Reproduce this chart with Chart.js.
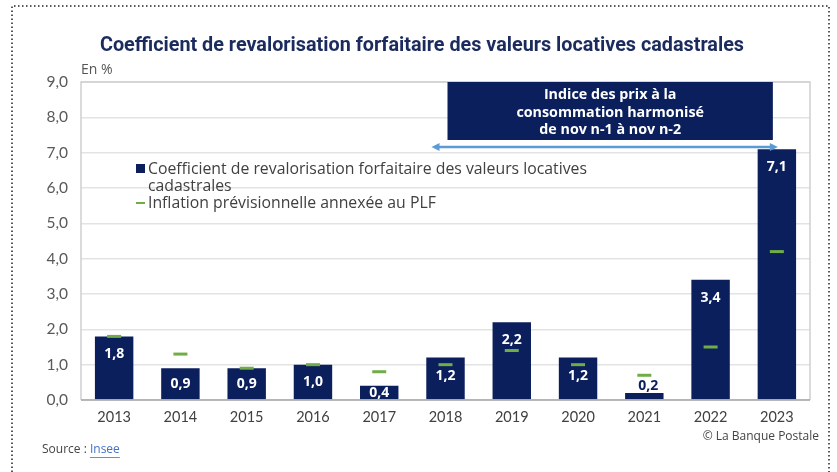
<!DOCTYPE html>
<html>
<head>
<meta charset="utf-8">
<script src="https://cdn.jsdelivr.net/npm/chart.js@4.4.0/dist/chart.umd.min.js"></script>
<style>
  html, body { margin: 0; padding: 0; background: #fff; }
  #wrap { width: 837px; height: 472px; position: relative; }
</style>
</head>
<body>
<div id="wrap"><canvas id="coefChart"></canvas></div>
<script>
// Données
const annees = ["2013", "2014", "2015", "2016", "2017", "2018", "2019", "2020", "2021", "2022", "2023"];
const coefficient = [1.8, 0.9, 0.9, 1.0, 0.4, 1.2, 2.2, 1.2, 0.2, 3.4, 7.1];
const inflationPLF = [1.8, 1.3, 0.9, 1.0, 0.8, 1.0, 1.4, 1.0, 0.7, 1.5, 4.2];
const ticksY = [0, 1, 2, 3, 4, 5, 6, 7, 8, 9];

const titre = "Coefficient de revalorisation forfaitaire des valeurs locatives cadastrales";
const labelCoef = "Coefficient de revalorisation forfaitaire des valeurs locatives cadastrales";
const labelInfl = "Inflation prévisionnelle annexée au PLF";
const boiteIPCH = ["Indice des prix à la", "consommation harmonisé", "de nov n-1 à nov n-2"];

const NAVY = "#0b1f5c";
const GREEN = "#70ad47";
const fmt = v => v.toFixed(1).replace(".", ",");

// Décor : cadre pointillé, titre, légende, encadré, sources
const decor = {
    id: "decor",
    beforeDraw(chart) {
        const ctx = chart.ctx;
        ctx.save();
        // cadre pointillé
        ctx.strokeStyle = "#222";
        ctx.lineWidth = 1.5;
        ctx.setLineDash([1.5, 2.5]);
        ctx.beginPath();
        ctx.moveTo(12, 472);
        ctx.lineTo(12, 6);
        ctx.lineTo(829, 6);
        ctx.lineTo(829, 472);
        ctx.stroke();
        ctx.setLineDash([]);

        // titre
        ctx.fillStyle = "#1b2b5e";
        ctx.font = "bold 19.8px Roboto";
        ctx.textAlign = "center";
        ctx.textBaseline = "middle";
        ctx.fillText(titre, 422, 46);

        // unité
        ctx.fillStyle = "#555";
        ctx.font = "14px 'Open Sans'";
        ctx.textAlign = "left";
        ctx.fillText("En %", 81, 70);

        // sources
        ctx.font = "12px 'Open Sans'";
        ctx.fillStyle = "#444";
        ctx.textAlign = "right";
        ctx.fillText("© La Banque Postale", 819, 437);
        ctx.textAlign = "left";
        ctx.fillText("Source : ", 42, 450);
        const w = ctx.measureText("Source : ").width;
        ctx.fillStyle = "#4472c4";
        ctx.fillText("Insee", 42 + w, 450);
        const wi = ctx.measureText("Insee").width;
        ctx.fillRect(42 + w, 457, wi, 0.8);
        ctx.restore();
    },
    afterDatasetsDraw(chart) {
        const ctx = chart.ctx;
        const a = chart.chartArea;
        const x = chart.scales.x;
        ctx.save();
        // contour de la zone de tracé
        ctx.strokeStyle = "#cfcfcf";
        ctx.lineWidth = 1.5;
        ctx.beginPath();
        ctx.moveTo(a.left, a.bottom);
        ctx.lineTo(a.left, a.top);
        ctx.lineTo(a.right, a.top);
        ctx.lineTo(a.right, a.bottom);
        ctx.stroke();
        ctx.strokeStyle = "#a6a6a6";
        ctx.beginPath();
        ctx.moveTo(a.left, a.bottom);
        ctx.lineTo(a.right, a.bottom);
        ctx.stroke();

        // encadré IPCH
        const bx0 = x.getPixelForValue(5) + 2;
        const bx1 = x.getPixelForValue(10) - 4;
        ctx.fillStyle = NAVY;
        ctx.fillRect(bx0, a.top, bx1 - bx0, 58);
        ctx.fillStyle = "#fff";
        ctx.font = "bold 14.3px 'Open Sans'";
        ctx.textAlign = "center";
        ctx.textBaseline = "middle";
        boiteIPCH.forEach((l, i) => ctx.fillText(l, (bx0 + bx1) / 2, a.top + 13 + i * 17.5));

        // flèche double
        const ax0 = x.getPixelForValue(5) - 14;
        const ax1 = x.getPixelForValue(10) + 1;
        const ay = a.top + 65;
        ctx.strokeStyle = "#5b9bd5";
        ctx.fillStyle = "#5b9bd5";
        ctx.lineWidth = 2.5;
        ctx.beginPath();
        ctx.moveTo(ax0 + 6, ay);
        ctx.lineTo(ax1 - 6, ay);
        ctx.stroke();
        ctx.beginPath();
        ctx.moveTo(ax0, ay); ctx.lineTo(ax0 + 8, ay - 4); ctx.lineTo(ax0 + 8, ay + 4); ctx.closePath();
        ctx.moveTo(ax1, ay); ctx.lineTo(ax1 - 8, ay - 4); ctx.lineTo(ax1 - 8, ay + 4); ctx.closePath();
        ctx.fill();

        // légende
        ctx.font = "15.8px 'Open Sans'";
        ctx.textAlign = "left";
        ctx.textBaseline = "middle";
        ctx.fillStyle = NAVY;
        ctx.fillRect(136, 164, 9, 9);
        ctx.fillStyle = "#404040";
        ctx.fillText("Coefficient de revalorisation forfaitaire des valeurs locatives", 148, 169);
        ctx.fillText("cadastrales", 148, 186);
        ctx.fillText(labelInfl, 148, 203);
        ctx.fillStyle = GREEN;
        ctx.fillRect(136, 202, 9, 2);

        // étiquettes des barres
        const meta = chart.getDatasetMeta(0);
        ctx.font = "bold 14px 'Open Sans'";
        ctx.textAlign = "center";
        meta.data.forEach((bar, i) => {
            const h = bar.base - bar.y;
            if (h < 10) {
                ctx.fillStyle = NAVY;
                ctx.fillText(fmt(coefficient[i]), bar.x + 4, bar.y - 7);
            } else {
                ctx.fillStyle = "#fff";
                ctx.fillText(fmt(coefficient[i]), bar.x, bar.y + Math.min(18, h / 2));
            }
        });
        ctx.restore();
    }
};

const chart = new Chart(document.getElementById("coefChart"), {
    data: {
        labels: annees,
        datasets: [
            {
                type: "bar",
                label: labelCoef,
                data: coefficient,
                backgroundColor: NAVY,
                barPercentage: 0.58,
                categoryPercentage: 1,
                order: 2
            },
            {
                type: "line",
                label: labelInfl,
                data: inflationPLF,
                showLine: false,
                pointStyle: "line",
                pointRadius: 7,
                pointBorderWidth: 3,
                borderColor: GREEN,
                backgroundColor: GREEN,
                order: 1
            }
        ]
    },
    options: {
        responsive: true,
        maintainAspectRatio: false,
        animation: false,
        layout: { padding: { left: 20, right: 27, top: 82, bottom: 42 } },
        plugins: {
            legend: { display: false },
            tooltip: { enabled: false }
        },
        scales: {
            x: {
                grid: { display: false, drawTicks: false },
                border: { display: false },
                ticks: { color: "#404040", font: { family: "Lato", size: 14.5 }, padding: 9 },
                afterFit: s => { s.height = 30; }
            },
            y: {
                min: 0,
                max: 9,
                afterBuildTicks: s => { s.ticks = ticksY.map(v => ({ value: v })); },
                grid: { color: "#e3e3e3", lineWidth: 1.5, drawTicks: false },
                border: { display: false },
                ticks: {
                    color: "#595959",
                    font: { family: "Lato", size: 15.5 },
                    padding: 13,
                    callback: v => fmt(v)
                },
                afterFit: s => { s.width = 61; }
            }
        }
    },
    plugins: [decor]
});
</script>
</body>
</html>
